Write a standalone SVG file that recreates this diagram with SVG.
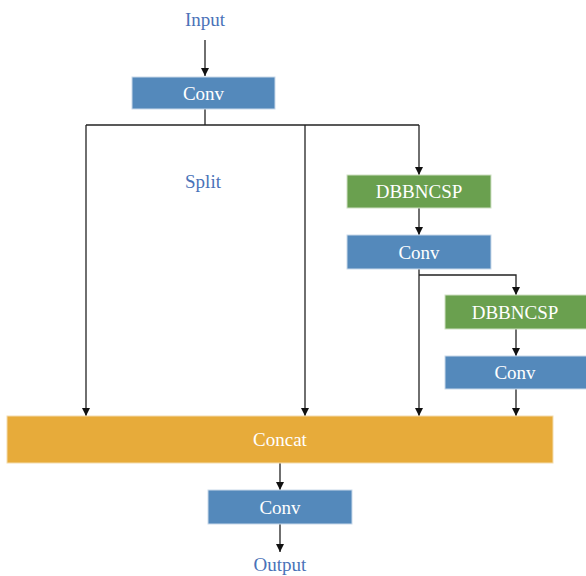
<svg xmlns="http://www.w3.org/2000/svg" width="586" height="576" viewBox="0 0 586 576">
  <style>
    .lbl { font-family: "Liberation Serif", "Times New Roman", serif; font-size: 19px; text-anchor: middle; }
    .io { fill: #4a72b8; }
    .box-text { fill: #ffffff; }
    .conv { fill: #5489bb; stroke: #c9d9ea; stroke-width: 1; }
    .csp { fill: #6aa04f; stroke: #cfe0c4; stroke-width: 1; }
    .cat { fill: #e7ab3a; stroke: #f3dcae; stroke-width: 1; }
    .wire { fill: none; stroke: #222222; stroke-width: 1.3; }
  </style>
  <defs>
    <marker id="arrow" viewBox="0 0 10 10" refX="10" refY="5" markerWidth="8" markerHeight="8" markerUnits="userSpaceOnUse" orient="auto">
      <path d="M0,0 L10,5 L0,10 Z" fill="#111111"/>
    </marker>
  </defs>

  <!-- connectors -->
  <g id="connectors">
    <line class="wire" x1="205" y1="40" x2="205" y2="76" marker-end="url(#arrow)"/>
    <polyline class="wire" points="205,109 205,125"/>
    <line class="wire" x1="86" y1="125" x2="419" y2="125"/>
    <line class="wire" x1="86" y1="125" x2="86" y2="416" marker-end="url(#arrow)"/>
    <line class="wire" x1="305" y1="125" x2="305" y2="416" marker-end="url(#arrow)"/>
    <line class="wire" x1="419" y1="125" x2="419" y2="175" marker-end="url(#arrow)"/>
    <line class="wire" x1="419" y1="208" x2="419" y2="235" marker-end="url(#arrow)"/>
    <line class="wire" x1="419" y1="269" x2="419" y2="416" marker-end="url(#arrow)"/>
    <polyline class="wire" points="419,275 516,275 516,295" marker-end="url(#arrow)"/>
    <line class="wire" x1="516" y1="329" x2="516" y2="356" marker-end="url(#arrow)"/>
    <line class="wire" x1="516" y1="389" x2="516" y2="416" marker-end="url(#arrow)"/>
    <line class="wire" x1="280" y1="463" x2="280" y2="490" marker-end="url(#arrow)"/>
    <line class="wire" x1="280" y1="524" x2="280" y2="552" marker-end="url(#arrow)"/>
  </g>

  <g id="input"><text class="lbl io" x="205" y="26">Input</text></g>

  <g id="conv1">
    <rect class="conv" x="132" y="77" width="143" height="32"/>
    <text class="lbl box-text" x="203.5" y="99.5">Conv</text>
  </g>

  <g id="split"><text class="lbl io" x="203" y="188">Split</text></g>

  <g id="dbbncsp1">
    <rect class="csp" x="347" y="175" width="144" height="33"/>
    <text class="lbl box-text" x="419" y="198">DBBNCSP</text>
  </g>

  <g id="conv2">
    <rect class="conv" x="347" y="235" width="144" height="34"/>
    <text class="lbl box-text" x="419" y="258.5">Conv</text>
  </g>

  <g id="dbbncsp2">
    <rect class="csp" x="445" y="295" width="142" height="34"/>
    <text class="lbl box-text" x="515" y="318.5">DBBNCSP</text>
  </g>

  <g id="conv3">
    <rect class="conv" x="445" y="356" width="142" height="33"/>
    <text class="lbl box-text" x="515" y="379">Conv</text>
  </g>

  <g id="concat">
    <rect class="cat" x="7" y="416" width="546" height="47"/>
    <text class="lbl box-text" x="280" y="446">Concat</text>
  </g>

  <g id="conv4">
    <rect class="conv" x="208" y="490" width="144" height="34"/>
    <text class="lbl box-text" x="280" y="513.5">Conv</text>
  </g>

  <g id="output"><text class="lbl io" x="280" y="571">Output</text></g>
</svg>
